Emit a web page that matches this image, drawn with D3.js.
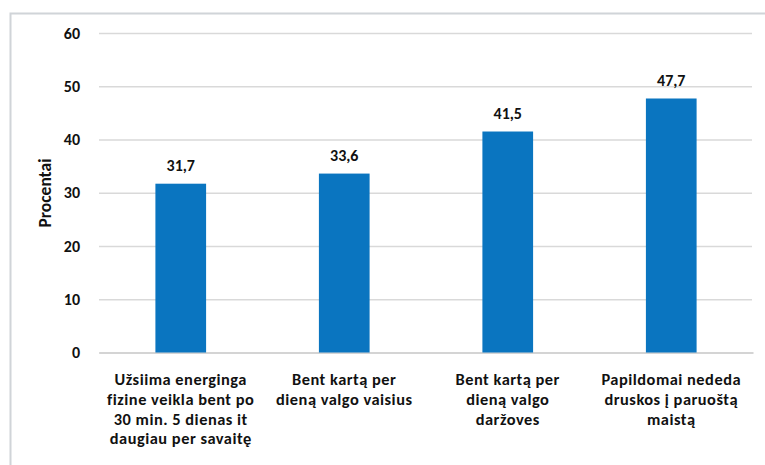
<!DOCTYPE html>
<html lang="lt">
<head>
<meta charset="utf-8">
<title>Procentai</title>
<script src="https://cdn.jsdelivr.net/npm/d3@7"></script>
<style>
	body { margin: 0; background: #fff; }
	text { font-family: Carlito, Calibri, Lato, sans-serif; fill: #111; }
	.grid line { stroke: #d9d9d9; stroke-width: 1.5px; }
	.grid .domain { display: none; }
	.grid text { font-size: 16px; font-weight: bold; }
	.base .domain { stroke: #d4d4d4; stroke-width: 2px; }
</style>
</head>
<body>
<div id="chart"></div>
<script>
	var width = 765, height = 465;

	// duomenys
	var categories = ["energinga", "vaisiai", "darzoves", "druska"];
	var labels = [
		["Užsiima energinga", "fizine veikla bent po", "30 min. 5 dienas it", "daugiau per savaitę"],
		["Bent kartą per", "dieną valgo vaisius"],
		["Bent kartą per", "dieną valgo", "daržoves"],
		["Papildomai nededa", "druskos į paruoštą", "maistą"]
	];
	var values = [31.7, 33.6, 41.5, 47.7];
	var yTicks = [0, 10, 20, 30, 40, 50, 60];

	var svg = d3.select("#chart")
		.append("svg")
		.attr("width", width)
		.attr("height", height);

	// rėmelis
	svg.append("path")
		.attr("d", "M10.5,465V13.5H765")
		.attr("fill", "none")
		.attr("stroke", "#d0d4d8")
		.attr("stroke-width", 2);

	var x = d3.scaleBand()
		.domain(categories)
		.range([99, 753])
		.paddingInner(0.69)
		.paddingOuter(0.345);

	var y = d3.scaleLinear()
		.domain([0, 60])
		.range([352.5, 33]);

	svg.append("g")
		.attr("class", "grid")
		.attr("transform", "translate(99,0)")
		.call(d3.axisLeft(y).tickValues(yTicks).tickSize(-653).tickPadding(19).tickFormat(d3.format("d")));

	svg.append("g")
		.attr("class", "base")
		.attr("transform", "translate(0," + y(0) + ")")
		.call(d3.axisBottom(x).tickSize(0).tickFormat(""));

	svg.append("text")
		.attr("transform", "translate(51,193) rotate(-90)")
		.attr("text-anchor", "middle")
		.style("font-size", "17.5px")
		.style("font-weight", "bold")
		.text("Procentai");

	svg.append("g")
		.selectAll("rect")
		.data(values)
		.enter().append("rect")
		.attr("x", function (d, i) { return x(categories[i]); })
		.attr("y", function (d) { return y(d); })
		.attr("width", x.bandwidth())
		.attr("height", function (d) { return y(0) - y(d); })
		.attr("fill", "#0a75c0");

	svg.append("g")
		.selectAll("text")
		.data(values)
		.enter().append("text")
		.attr("x", function (d, i) { return x(categories[i]) + x.bandwidth() / 2; })
		.attr("y", function (d) { return y(d) - 12.5; })
		.attr("text-anchor", "middle")
		.style("font-size", "16px")
		.style("font-weight", "bold")
		.text(function (d) { return String(d).replace(".", ","); });

	// kategorijų pavadinimai, kiekviena eilutė atskirai
	labels.forEach(function (lines, i) {
		svg.append("g")
			.selectAll("text")
			.data(lines)
			.enter().append("text")
			.attr("x", x(categories[i]) + x.bandwidth() / 2)
			.attr("y", function (s, j) { return 385 + j * 19.8; })
			.attr("text-anchor", "middle")
			.style("font-size", "16.4px")
			.style("font-weight", "bold")
			.style("letter-spacing", "0.5px")
			.text(function (s) { return s; });
	});
</script>
</body>
</html>
